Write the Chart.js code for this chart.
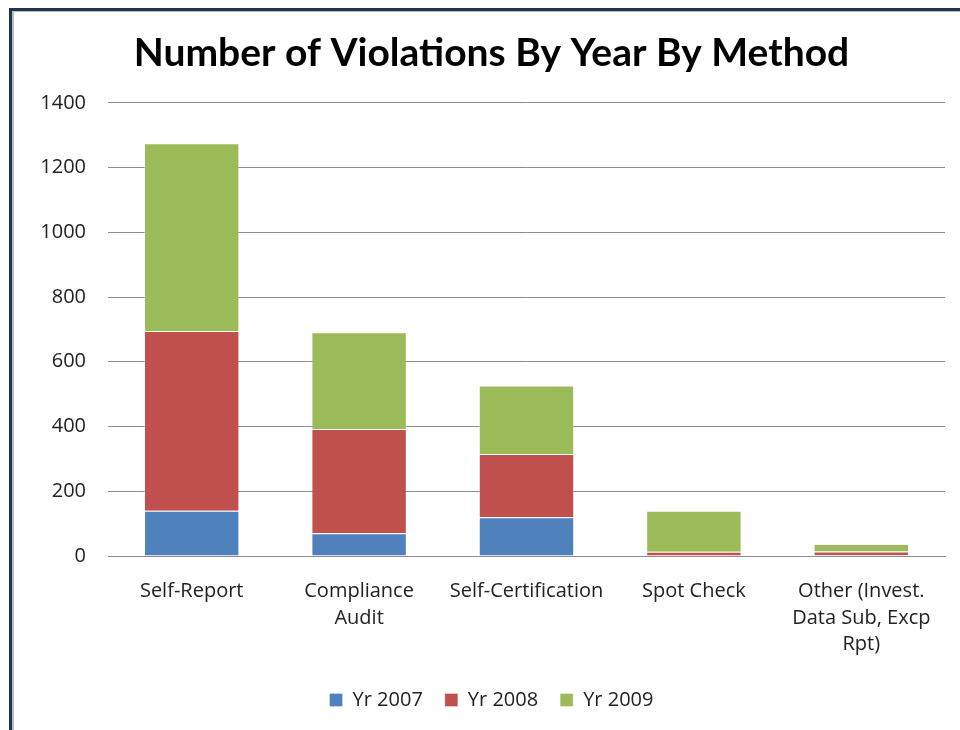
<!DOCTYPE html>
<html>
<head>
<meta charset="utf-8">
<script src="https://cdn.jsdelivr.net/npm/chart.js@4/dist/chart.umd.min.js"></script>
<style>
  html, body { margin: 0; padding: 0; background: #fff; }
  #wrap { width: 960px; height: 730px; }
</style>
</head>
<body>
<div id="wrap"><canvas id="chart" width="960" height="730"></canvas></div>
<script>
// Chart values
const categories = [
  'Self-Report',
  ['Compliance', 'Audit'],
  'Self-Certification',
  'Spot Check',
  ['Other (Invest.', 'Data Sub, Excp', 'Rpt)']
];
const yr2007 = [140, 70, 120, 0, 3];
const yr2008 = [555, 322, 195, 13, 11];
const yr2009 = [580, 299, 212, 127, 23];
const yTicks = [0, 200, 400, 600, 800, 1000, 1200, 1400];

const FONT = '"Open Sans", Lato, sans-serif';

// draws the window frame seen at the left / top edge
const framePlugin = {
  id: 'frame',
  beforeDraw(chart) {
    const ctx = chart.ctx;
    ctx.save();
    ctx.fillStyle = '#fff';
    ctx.fillRect(0, 0, chart.width, chart.height);
    ctx.fillStyle = '#1f3550';
    ctx.fillRect(9, 8, 3, chart.height);
    ctx.fillRect(9, 8, chart.width, 3);
    ctx.fillStyle = '#b8bcc2';
    ctx.fillRect(12, 11, 2, chart.height);
    ctx.fillRect(12, 11, chart.width, 1);
    ctx.restore();
  }
};

function ds(label, data, color) {
  return {
    label: label,
    data: data,
    backgroundColor: color,
    borderColor: 'rgba(255,255,255,0.35)',
    borderWidth: 1,
    barPercentage: 0.57,
    categoryPercentage: 1.0
  };
}

new Chart(document.getElementById('chart'), {
  type: 'bar',
  data: {
    labels: categories,
    datasets: [
      ds('Yr 2007', yr2007, '#4f81bd'),
      ds('Yr 2008', yr2008, '#c0504d'),
      ds('Yr 2009', yr2009, '#9bbb59')
    ]
  },
  options: {
    responsive: false,
    animation: false,
    layout: { padding: { left: 38, right: 15, top: 30, bottom: 10 } },
    plugins: {
      title: {
        display: true,
        text: 'Number of Violations By Year By Method',
        color: '#000',
        font: { family: 'Lato, sans-serif', size: 39, weight: 'bold' },
        padding: { top: 0, bottom: 26 }
      },
      legend: {
        position: 'bottom',
        labels: {
          color: '#222',
          font: { family: FONT, size: 20 },
          boxWidth: 13,
          boxHeight: 13,
          padding: 22
        }
      },
      tooltip: { enabled: false }
    },
    scales: {
      x: {
        stacked: true,
        grid: { display: false, drawTicks: false },
        border: { display: true, color: '#8c8c8c', width: 1 },
        ticks: {
          color: '#222',
          font: { family: FONT, size: 20, lineHeight: 1.33 },
          padding: 22,
          maxRotation: 0,
          autoSkip: false
        },
        afterFit(scale) { scale.height = 112; }
      },
      y: {
        stacked: true,
        min: 0,
        max: 1400,
        afterBuildTicks(axis) {
          axis.ticks = yTicks.map(v => ({ value: v }));
        },
        grid: { color: '#8c8c8c', drawTicks: false },
        border: { display: false },
        ticks: {
          color: '#222',
          font: { family: FONT, size: 20 },
          padding: 22,
          callback: v => String(v)
        },
        afterFit(scale) { scale.width = 70; }
      }
    }
  },
  plugins: [framePlugin]
});
</script>
</body>
</html>
